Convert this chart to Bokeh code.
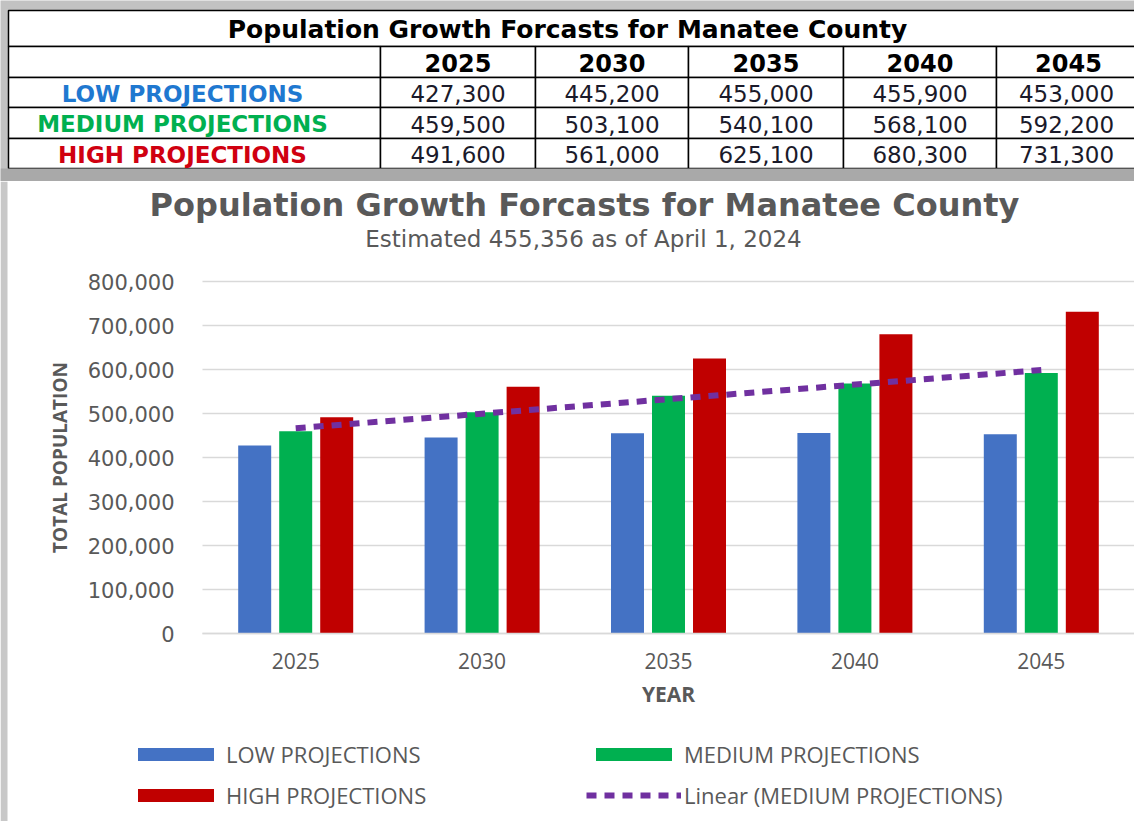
import numpy as np
from bokeh.plotting import figure
from bokeh.models import (Range1d, ColumnDataSource, FixedTicker, Legend, LegendItem,
                          Label, NumeralTickFormatter, BoxAnnotation)
from bokeh.embed import file_html
from bokeh.resources import INLINE
from bokeh.core.properties import value

# ---------------- data ----------------
years = ["2025", "2030", "2035", "2040", "2045"]
low = [427300, 445200, 455000, 455900, 453000]
medium = [459500, 503100, 540100, 568100, 592200]
high = [491600, 561000, 625100, 680300, 731300]
series_names = ["LOW PROJECTIONS", "MEDIUM PROJECTIONS", "HIGH PROJECTIONS"]
trend_name = "Linear (MEDIUM PROJECTIONS)"
title_text = "Population Growth Forcasts for Manatee County"
subtitle_text = "Estimated 455,356 as of April 1, 2024"
y_ticks = [0, 100000, 200000, 300000, 400000, 500000, 600000, 700000, 800000]

# ---------------- styles ----------------
BAR_COLORS = ["#4472C4", "#00B050", "#C00000"]
TABLE_LABEL_COLORS = ["#1F78D0", "#00B050", "#D00010"]
TREND_COLOR = "#7030A0"
GREY = "#595959"

W = 1134
TABLE_H = 181
CHART_H = 640

# ---------------- table ----------------
t = figure(width=W, height=TABLE_H, x_range=Range1d(0, W), y_range=Range1d(TABLE_H, 0),
           output_backend="svg", toolbar_location=None, x_axis_type=None, y_axis_type=None,
           min_border=0)
t.grid.visible = False
t.outline_line_color = None
t.background_fill_color = "#c2c2c2"
t.border_fill_color = "#c2c2c2"

col_edges = [8, 380, 535, 688, 843, 996, 1140]
row_edges = [10, 46, 77, 107, 138, 168]

t.add_layout(BoxAnnotation(top=row_edges[-1], bottom=TABLE_H, fill_color="#a9a9a9",
                           fill_alpha=1, line_color=None))
t.quad(left=[col_edges[0]], right=[col_edges[-1]], top=[row_edges[0]], bottom=[row_edges[1]],
       fill_color="white", line_color="black", line_width=1.5)
L, R, T, B = [], [], [], []
for r in range(1, 5):
    for c in range(6):
        L.append(col_edges[c]); R.append(col_edges[c + 1])
        T.append(row_edges[r]); B.append(row_edges[r + 1])
t.quad(left=L, right=R, top=T, bottom=B, fill_color="white", line_color="black", line_width=1.5)

def cx(c):
    return (col_edges[c] + col_edges[c + 1]) / 2

def cy(r):
    return (row_edges[r] + row_edges[r + 1]) / 2 + 1

t.text(x=[567], y=[cy(0)], text=[title_text],
       text_font=value("DejaVu Sans"), text_font_style="bold", text_font_size="25px",
       text_align="center", text_baseline="middle", text_color="black")
t.text(x=[cx(i + 1) for i in range(len(years))], y=[cy(1)] * len(years), text=years,
       text_font=value("DejaVu Sans"), text_font_style="bold", text_font_size="24px",
       text_align="center", text_baseline="middle", text_color="black")
t.text(x=[cx(0) - 12] * 3, y=[cy(2), cy(3), cy(4)], text=series_names,
       text_font=value("DejaVu Sans"), text_font_style="bold", text_font_size="23px",
       text_align="center", text_baseline="middle", text_color=TABLE_LABEL_COLORS)
vx, vy, vt = [], [], []
for r, ser in enumerate([low, medium, high]):
    for i, v in enumerate(ser):
        vx.append(cx(i + 1) if i < 4 else 1066); vy.append(cy(r + 2)); vt.append(f"{v:,}")
t.text(x=vx, y=vy, text=vt, text_font=value("DejaVu Sans"), text_font_size="23px",
       text_align="center", text_baseline="middle", text_color="#1a1a2a")

# ---------------- chart ----------------
# the frame fills the whole chart canvas; axes are pinned inside it
PLOT_LEFT = 202          # px of first category edge
PITCH = 186.4            # px per category
Y_TOP_PX = 100           # px from canvas top to 800,000 line
Y_ZERO_PX = 452          # px from canvas top to 0 line
ppu = (Y_ZERO_PX - Y_TOP_PX) / y_ticks[-1]
x = np.arange(len(years))
x_start = -0.5 - PLOT_LEFT / PITCH
y_end = y_ticks[-1] + Y_TOP_PX / ppu
y_start = -(CHART_H - Y_ZERO_PX) / ppu

p = figure(width=W, height=CHART_H,
           x_range=Range1d(x_start, x_start + W / PITCH), y_range=Range1d(y_start, y_end),
           output_backend="svg", toolbar_location=None, min_border=0)
p.outline_line_color = None
p.xgrid.visible = False
yt = FixedTicker(ticks=y_ticks)
p.yaxis.ticker = yt
p.ygrid.ticker = yt
p.ygrid.bounds = (y_ticks[0], y_ticks[-1])
p.ygrid.grid_line_color = "#d9d9d9"
p.ygrid.grid_line_width = 1.3
if "cross_bounds" in p.ygrid[0].properties():
    p.ygrid.cross_bounds = (-0.5, len(years) - 0.5)
p.yaxis.formatter = NumeralTickFormatter(format="0,0")
p.xaxis.ticker = FixedTicker(ticks=list(x))
p.xaxis.major_label_overrides = {int(i): y for i, y in zip(x, years)}
p.xaxis.fixed_location = 0
p.xaxis.bounds = (-0.5, len(years) - 0.5)
p.yaxis.fixed_location = -0.5
p.yaxis.bounds = (y_ticks[0], y_ticks[-1])

for ax in (p.xaxis, p.yaxis):
    ax.major_tick_line_color = None
    ax.minor_tick_line_color = None
    ax.major_label_text_color = GREY
    ax.axis_label_text_color = GREY
    ax.axis_label_text_font_style = "bold"
p.yaxis.axis_line_color = None
p.xaxis.axis_line_color = "#d9d9d9"
p.xaxis.axis_line_width = 1.3
p.yaxis.major_label_text_font = "DejaVu Sans"
p.yaxis.major_label_text_font_size = "21px"
p.yaxis.major_label_standoff = 22
p.xaxis.major_label_text_font = "Open Sans"
p.xaxis.major_label_text_font_size = "21px"
p.xaxis.major_label_standoff = 13
p.xaxis.axis_label = "YEAR"
p.xaxis.axis_label_text_font = "Open Sans"
p.xaxis.axis_label_text_font_size = "21px"
p.xaxis.axis_label_standoff = 8
p.yaxis.axis_label = "TOTAL POPULATION"
p.yaxis.axis_label_text_font = "Open Sans"
p.yaxis.axis_label_text_font_size = "19px"
p.yaxis.axis_label_standoff = 12

# left shadow edge of the chart panel
p.add_layout(BoxAnnotation(left=0, right=7, left_units="screen", right_units="screen",
                           fill_color="#c8c8c8", fill_alpha=1, line_color=None))

offsets = [-0.22, 0.0, 0.22]
bar_w = 0.177
src = ColumnDataSource(dict(x=x, low=low, medium=medium, high=high))
renderers = []
for key, off, col in zip(["low", "medium", "high"], offsets, BAR_COLORS):
    r = p.vbar(x=x + off, top=src.data[key], width=bar_w, bottom=0,
               fill_color=col, line_color=None)
    renderers.append(r)

coef = np.polyfit(x, medium, 1)
trend_x = np.array([x[0], x[-1]], dtype=float)
trend = p.line(trend_x, np.polyval(coef, trend_x), line_color=TREND_COLOR,
               line_width=6, line_dash="10 8")

# titles (canvas == frame, screen units from bottom-left)
p.add_layout(Label(x=584, y=CHART_H - 23, x_units="screen", y_units="screen",
                   text=title_text, text_align="center", text_baseline="middle",
                   text_font="DejaVu Sans", text_font_style="bold", text_font_size="32px",
                   text_color=GREY))
p.add_layout(Label(x=583, y=CHART_H - 57, x_units="screen", y_units="screen",
                   text=subtitle_text, text_align="center", text_baseline="middle",
                   text_font="DejaVu Sans", text_font_size="23px", text_color=GREY))

def add_legend(items, loc):
    lg = Legend(items=items, location=loc, orientation="vertical",
                glyph_width=95, glyph_height=16, label_height=20, spacing=11,
                label_standoff=3, padding=0, margin=0, border_line_color=None,
                background_fill_alpha=0, label_text_font="Open Sans",
                label_text_font_size="22px", label_text_color=GREY)
    p.add_layout(lg, "center")

add_legend([LegendItem(label=series_names[0], renderers=[renderers[0]]),
            LegendItem(label=series_names[2], renderers=[renderers[2]])], (128, 11))
add_legend([LegendItem(label=series_names[1], renderers=[renderers[1]]),
            LegendItem(label=trend_name, renderers=[trend])], (586, 11))

open("out.html", "w").write(file_html([t, p], INLINE))
